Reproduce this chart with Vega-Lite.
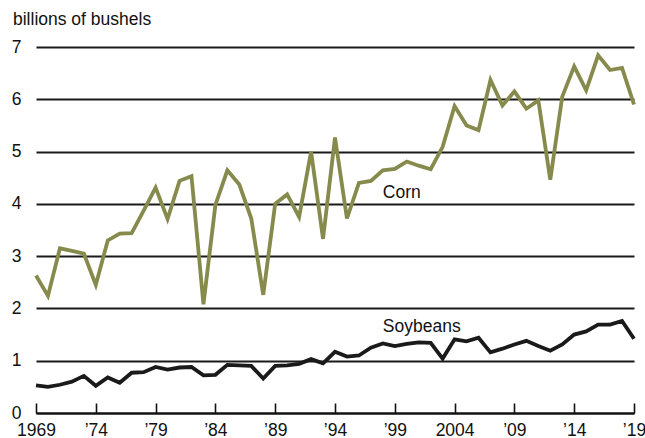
{
  "$schema": "https://vega.github.io/schema/vega-lite/v6.json",
  "width": 598,
  "height": 366,
  "autosize": {"type": "none"},
  "padding": {"left": 36, "top": 47, "right": 11, "bottom": 25},
  "background": "white",
  "config": {
    "view": {"stroke": null},
    "font": "Liberation Sans",
    "axis": {"labelFont": "Liberation Sans", "titleFont": "Liberation Sans", "labelColor": "#111", "titleColor": "#111"}
  },
  "datasets": {
    "prod": [
      {"year": 1969, "crop": "Corn", "value": 2.63}, {"year": 1970, "crop": "Corn", "value": 2.24},
      {"year": 1971, "crop": "Corn", "value": 3.15}, {"year": 1972, "crop": "Corn", "value": 3.10},
      {"year": 1973, "crop": "Corn", "value": 3.05}, {"year": 1974, "crop": "Corn", "value": 2.45},
      {"year": 1975, "crop": "Corn", "value": 3.30}, {"year": 1976, "crop": "Corn", "value": 3.43},
      {"year": 1977, "crop": "Corn", "value": 3.44}, {"year": 1978, "crop": "Corn", "value": 3.87},
      {"year": 1979, "crop": "Corn", "value": 4.31}, {"year": 1980, "crop": "Corn", "value": 3.71},
      {"year": 1981, "crop": "Corn", "value": 4.44}, {"year": 1982, "crop": "Corn", "value": 4.53},
      {"year": 1983, "crop": "Corn", "value": 2.08}, {"year": 1984, "crop": "Corn", "value": 3.98},
      {"year": 1985, "crop": "Corn", "value": 4.64}, {"year": 1986, "crop": "Corn", "value": 4.37},
      {"year": 1987, "crop": "Corn", "value": 3.72}, {"year": 1988, "crop": "Corn", "value": 2.26},
      {"year": 1989, "crop": "Corn", "value": 4.00}, {"year": 1990, "crop": "Corn", "value": 4.18},
      {"year": 1991, "crop": "Corn", "value": 3.75}, {"year": 1992, "crop": "Corn", "value": 5.00},
      {"year": 1993, "crop": "Corn", "value": 3.33}, {"year": 1994, "crop": "Corn", "value": 5.27},
      {"year": 1995, "crop": "Corn", "value": 3.72}, {"year": 1996, "crop": "Corn", "value": 4.40},
      {"year": 1997, "crop": "Corn", "value": 4.44}, {"year": 1998, "crop": "Corn", "value": 4.64},
      {"year": 1999, "crop": "Corn", "value": 4.67}, {"year": 2000, "crop": "Corn", "value": 4.81},
      {"year": 2001, "crop": "Corn", "value": 4.73}, {"year": 2002, "crop": "Corn", "value": 4.66},
      {"year": 2003, "crop": "Corn", "value": 5.09}, {"year": 2004, "crop": "Corn", "value": 5.87},
      {"year": 2005, "crop": "Corn", "value": 5.50}, {"year": 2006, "crop": "Corn", "value": 5.41},
      {"year": 2007, "crop": "Corn", "value": 6.37}, {"year": 2008, "crop": "Corn", "value": 5.88},
      {"year": 2009, "crop": "Corn", "value": 6.15}, {"year": 2010, "crop": "Corn", "value": 5.82},
      {"year": 2011, "crop": "Corn", "value": 5.98}, {"year": 2012, "crop": "Corn", "value": 4.46},
      {"year": 2013, "crop": "Corn", "value": 6.05}, {"year": 2014, "crop": "Corn", "value": 6.63},
      {"year": 2015, "crop": "Corn", "value": 6.17}, {"year": 2016, "crop": "Corn", "value": 6.84},
      {"year": 2017, "crop": "Corn", "value": 6.56}, {"year": 2018, "crop": "Corn", "value": 6.60},
      {"year": 2019, "crop": "Corn", "value": 5.90},
      {"year": 1969, "crop": "Soybeans", "value": 0.53}, {"year": 1970, "crop": "Soybeans", "value": 0.50},
      {"year": 1971, "crop": "Soybeans", "value": 0.54}, {"year": 1972, "crop": "Soybeans", "value": 0.60},
      {"year": 1973, "crop": "Soybeans", "value": 0.71}, {"year": 1974, "crop": "Soybeans", "value": 0.52},
      {"year": 1975, "crop": "Soybeans", "value": 0.68}, {"year": 1976, "crop": "Soybeans", "value": 0.58},
      {"year": 1977, "crop": "Soybeans", "value": 0.77}, {"year": 1978, "crop": "Soybeans", "value": 0.78},
      {"year": 1979, "crop": "Soybeans", "value": 0.88}, {"year": 1980, "crop": "Soybeans", "value": 0.83},
      {"year": 1981, "crop": "Soybeans", "value": 0.87}, {"year": 1982, "crop": "Soybeans", "value": 0.88},
      {"year": 1983, "crop": "Soybeans", "value": 0.72}, {"year": 1984, "crop": "Soybeans", "value": 0.73},
      {"year": 1985, "crop": "Soybeans", "value": 0.92}, {"year": 1986, "crop": "Soybeans", "value": 0.91},
      {"year": 1987, "crop": "Soybeans", "value": 0.90}, {"year": 1988, "crop": "Soybeans", "value": 0.66},
      {"year": 1989, "crop": "Soybeans", "value": 0.90}, {"year": 1990, "crop": "Soybeans", "value": 0.91},
      {"year": 1991, "crop": "Soybeans", "value": 0.94}, {"year": 1992, "crop": "Soybeans", "value": 1.03},
      {"year": 1993, "crop": "Soybeans", "value": 0.95}, {"year": 1994, "crop": "Soybeans", "value": 1.17},
      {"year": 1995, "crop": "Soybeans", "value": 1.08}, {"year": 1996, "crop": "Soybeans", "value": 1.10},
      {"year": 1997, "crop": "Soybeans", "value": 1.25}, {"year": 1998, "crop": "Soybeans", "value": 1.33},
      {"year": 1999, "crop": "Soybeans", "value": 1.28}, {"year": 2000, "crop": "Soybeans", "value": 1.32},
      {"year": 2001, "crop": "Soybeans", "value": 1.35}, {"year": 2002, "crop": "Soybeans", "value": 1.34},
      {"year": 2003, "crop": "Soybeans", "value": 1.04}, {"year": 2004, "crop": "Soybeans", "value": 1.41},
      {"year": 2005, "crop": "Soybeans", "value": 1.37}, {"year": 2006, "crop": "Soybeans", "value": 1.44},
      {"year": 2007, "crop": "Soybeans", "value": 1.16}, {"year": 2008, "crop": "Soybeans", "value": 1.23},
      {"year": 2009, "crop": "Soybeans", "value": 1.31}, {"year": 2010, "crop": "Soybeans", "value": 1.38},
      {"year": 2011, "crop": "Soybeans", "value": 1.28}, {"year": 2012, "crop": "Soybeans", "value": 1.19},
      {"year": 2013, "crop": "Soybeans", "value": 1.31}, {"year": 2014, "crop": "Soybeans", "value": 1.50},
      {"year": 2015, "crop": "Soybeans", "value": 1.56}, {"year": 2016, "crop": "Soybeans", "value": 1.69},
      {"year": 2017, "crop": "Soybeans", "value": 1.69}, {"year": 2018, "crop": "Soybeans", "value": 1.76},
      {"year": 2019, "crop": "Soybeans", "value": 1.42}
    ],
    "labels": [
      {"year": 1998.0, "value": 4.12, "label": "Corn"},
      {"year": 1998.0, "value": 1.555, "label": "Soybeans"}
    ]
  },
  "layer": [
    {
      "data": {"name": "prod"},
      "mark": {"type": "line", "strokeWidth": 3.8, "strokeJoin": "miter", "strokeMiterLimit": 4, "clip": false},
      "encoding": {
        "x": {
          "field": "year", "type": "quantitative",
          "scale": {"domain": [1969, 2019], "nice": false, "zero": false},
          "axis": {
            "values": [1969, 1974, 1979, 1984, 1989, 1994, 1999, 2004, 2009, 2014, 2019],
            "labelExpr": "(datum.value == 1969 || datum.value == 2004) ? '' + datum.value : '’' + substring('' + datum.value, 2, 4)",
            "title": null, "grid": false,
            "domainColor": "#111", "domainWidth": 2,
            "tickColor": "#111", "tickWidth": 1.6, "tickSize": -10,
            "labelPadding": 18, "labelFontSize": 17.5, "labelFlush": false, "labelOverlap": false
          }
        },
        "y": {
          "field": "value", "type": "quantitative",
          "scale": {"domain": [0, 7], "nice": false},
          "axis": {
            "values": [0, 1, 2, 3, 4, 5, 6, 7], "format": "d",
            "title": "billions of bushels", "titleAngle": 0, "titleAlign": "left", "titleBaseline": "alphabetic",
            "titleX": -23.5, "titleY": -23, "titleFontSize": 17.5, "titleFontWeight": "normal",
            "domain": false, "ticks": false, "labelPadding": 15, "labelFontSize": 17.5,
            "grid": true, "gridColor": "#1a1a1a", "gridWidth": 2, "gridOpacity": 1
          }
        },
        "color": {
          "field": "crop", "type": "nominal",
          "scale": {"domain": ["Corn", "Soybeans"], "range": ["#868a4c", "#1a1a1a"]},
          "legend": null
        }
      }
    },
    {
      "data": {"name": "labels"},
      "mark": {"type": "text", "align": "left", "baseline": "alphabetic", "fontSize": 17.5, "color": "#111", "font": "Liberation Sans"},
      "encoding": {
        "x": {"field": "year", "type": "quantitative"},
        "y": {"field": "value", "type": "quantitative"},
        "text": {"field": "label"}
      }
    }
  ]
}
